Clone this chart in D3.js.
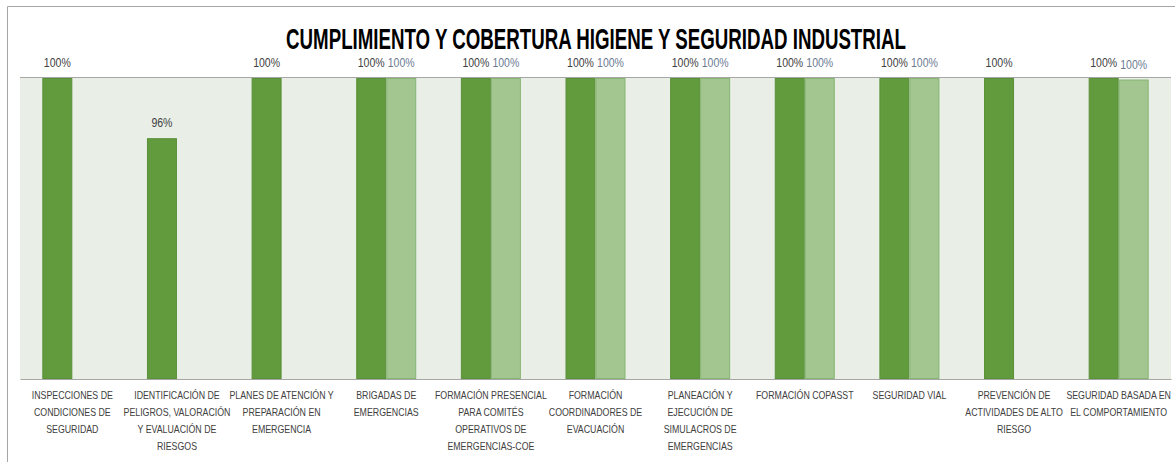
<!doctype html>
<html>
<head>
    <meta charset="UTF-8">
    <title>Cumplimiento y cobertura</title>
    <script src="https://cdn.jsdelivr.net/npm/d3@7"></script>
    <style>
        body { margin: 0; background: #fff; }
        svg text { font-family: "Liberation Sans", Arial, sans-serif; }
    </style>
</head>
<body>
<svg class="chart" width="1175" height="462"></svg>
<script>
    // categorias (con sus saltos de linea como en el original)
    var categories = [
        ["INSPECCIONES DE", "CONDICIONES DE", "SEGURIDAD"],
        ["IDENTIFICACIÓN DE", "PELIGROS, VALORACIÓN", "Y EVALUACIÓN DE", "RIESGOS"],
        ["PLANES DE ATENCIÓN Y", "PREPARACIÓN EN", "EMERGENCIA"],
        ["BRIGADAS DE", "EMERGENCIAS"],
        ["FORMACIÓN PRESENCIAL", "PARA COMITÉS", "OPERATIVOS DE", "EMERGENCIAS-COE"],
        ["FORMACIÓN", "COORDINADORES DE", "EVACUACIÓN"],
        ["PLANEACIÓN Y", "EJECUCIÓN DE", "SIMULACROS DE", "EMERGENCIAS"],
        ["FORMACIÓN COPASST"],
        ["SEGURIDAD VIAL"],
        ["PREVENCIÓN DE", "ACTIVIDADES DE ALTO", "RIESGO"],
        ["SEGURIDAD BASADA EN", "EL COMPORTAMIENTO"]
    ];
    // cumplimiento / cobertura (null = sin dato)
    var cumplimiento = [1, 0.96, 1, 1, 1, 1, 1, 1, 1, 1, 1];
    var cobertura = [null, null, null, 1, 1, 1, 1, 1, 1, null, 0.999];

    var title = "CUMPLIMIENTO Y COBERTURA HIGIENE Y SEGURIDAD INDUSTRIAL";
    var colors = ["#629a3e", "#a3c690"];
    var strokes = ["#5a9038", "#86b572"];
    var labelColors = ["#404040", "#6b7a92"];

    var svg = d3.select(".chart");
    var plot = {left: 20, right: 1171, top: 78, bottom: 379};
    var narrow = 0.8; // no hay fuente condensada, se comprime en horizontal

    // marco exterior
    svg.append("path")
        .attr("d", "M7.5,470 L7.5,6.5 L1180,6.5")
        .attr("fill", "none").attr("stroke", "#a6a6a6").attr("stroke-width", 1);

    svg.append("text")
        .attr("transform", "translate(596,49) scale(0.645,1)")
        .attr("text-anchor", "middle")
        .attr("font-size", 29).attr("font-weight", "bold")
        .attr("fill", "#000")
        .text(title);

    var x = d3.scaleBand()
        .domain(d3.range(categories.length))
        .range([plot.left, plot.right])
        .paddingInner(0).paddingOuter(0);

    var y = d3.scaleLinear()
        .domain([0.8, 1])
        .range([plot.bottom, plot.top]);

    var barW = 30;

    svg.append("rect")
        .attr("x", plot.left).attr("y", plot.top)
        .attr("width", plot.right - plot.left).attr("height", plot.bottom - plot.top)
        .attr("fill", "#e9eee7");

    svg.append("line")
        .attr("x1", plot.left).attr("x2", plot.right)
        .attr("y1", plot.top - 0.5).attr("y2", plot.top - 0.5)
        .attr("stroke", "#a6a6a6");

    var series = [cumplimiento, cobertura];
    series.forEach(function (vals, s) {
        var rows = vals.map(function (v, i) { return {i: i, v: v}; })
            .filter(function (d) { return d.v != null; });

        svg.append("g").selectAll("rect").data(rows).enter().append("rect")
            .attr("x", function (d) { return x(d.i) + x.bandwidth() / 2 - barW + s * barW + 0.5; })
            .attr("y", function (d) { return y(d.v) + 0.5; })
            .attr("width", barW - 1)
            .attr("height", function (d) { return plot.bottom - y(d.v) - 1; })
            .attr("fill", colors[s])
            .attr("stroke", strokes[s]).attr("stroke-width", 1);

        svg.append("g").selectAll("text").data(rows).enter().append("text")
            .attr("transform", function (d) {
                var cx = x(d.i) + x.bandwidth() / 2 - barW / 2 + s * barW;
                return "translate(" + cx + "," + (y(d.v) - 11) + ") scale(0.78,1)";
            })
            .attr("text-anchor", "middle")
            .attr("font-size", 13.5)
            .attr("fill", labelColors[s])
            .text(function (d) { return d3.format(".0%")(d.v); });
    });

    var xAxis = svg.append("g")
        .attr("transform", "translate(0," + plot.bottom + ")")
        .call(d3.axisBottom(x).tickSize(0).tickFormat(""));
    xAxis.select(".domain").attr("stroke", "#a6a6a6");

    var labels = svg.append("g").selectAll("g").data(categories).enter().append("g")
        .attr("transform", function (d, i) {
            return "translate(" + (x(i) + x.bandwidth() / 2) + ",399) scale(" + narrow + ",1)";
        });
    labels.each(function (lines) {
        var t = d3.select(this).append("text")
            .attr("text-anchor", "middle")
            .attr("font-size", 11)
            .attr("fill", "#404040");
        lines.forEach(function (line, k) {
            t.append("tspan")
                .attr("x", 0)
                .attr("y", k * 17)
                .text(line);
        });
    });
</script>
</body>
</html>
